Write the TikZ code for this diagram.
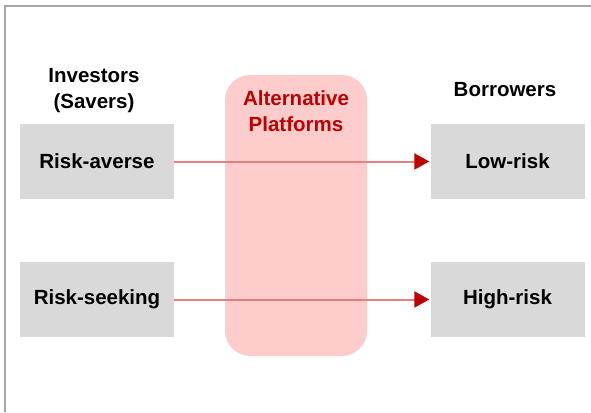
\documentclass[tikz,border=0pt]{standalone}
\usepackage{fontspec}
\setmainfont{Liberation Sans}
\usetikzlibrary{arrows.meta}
\definecolor{boxgray}{HTML}{D9D9D9}
\definecolor{framegray}{HTML}{A6A6A6}
\definecolor{pinkfill}{HTML}{FFCCCC}
\definecolor{darkred}{HTML}{C00000}
\definecolor{linered}{HTML}{E58080}
\tikzset{
  graybox/.style={fill=boxgray, draw=none, inner sep=0pt, minimum width=154pt, minimum height=75.5pt,
    font=\fontsize{20.5pt}{26pt}\selectfont\bfseries},
  headtext/.style={inner sep=0pt, align=center, font=\fontsize{20.5pt}{26pt}\selectfont\bfseries},
  flowarrow/.style={draw=linered, line width=2pt,
    -{Triangle[length=15pt,width=16pt,color=darkred]}, shorten >=1pt},
  platform/.style={fill=pinkfill, draw=none, rounded corners=25pt}
}
\begin{document}
\begin{tikzpicture}[x=1pt,y=-1pt]
\useasboundingbox (0,0) rectangle (591,412);
% frame (only left and top edges visible)
\draw[framegray, line width=2.5pt] (5,412) -- (5,6) -- (591,6);
% platform band
\path[platform] (225,75) rectangle (367,356);
% boxes
\node[graybox] (ra) at (97,161.5) {Risk-averse};
\node[graybox] (rs) at (97,299.5) {Risk-seeking};
\node[graybox] (lr) at (507.5,161.5) {Low-risk};
\node[graybox] (hr) at (507.5,299.5) {High-risk};
% headers
\node[headtext, anchor=north] (inv) at (94,68.5) {Investors\\(Savers)};
\node[headtext, anchor=base] (bor) at (505,96) {Borrowers};
\node[headtext, anchor=north, text=darkred] (alt) at (296,90.5) {Alternative\\Platforms};
% arrows
\draw[flowarrow] (ra.east) -- (lr.west);
\draw[flowarrow] (rs.east) -- (hr.west);
\end{tikzpicture}
\end{document}
